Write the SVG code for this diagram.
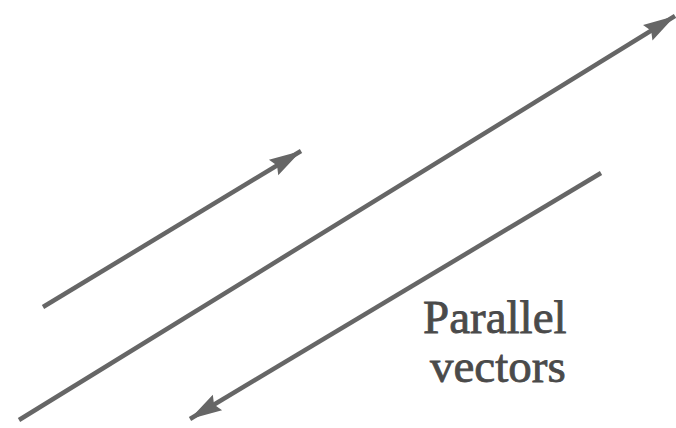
<svg xmlns="http://www.w3.org/2000/svg" width="676" height="428" viewBox="0 0 676 428">
<defs>
<marker id="ah" markerUnits="userSpaceOnUse" markerWidth="34" markerHeight="22" refX="32" refY="11" orient="auto" viewBox="0 0 34 22">
<path d="M0,2 L32,11 L0,20 L4,11 Z" fill="#666"/>
</marker>
<style>
.v{stroke:#666;stroke-width:4.5;fill:none;marker-end:url(#ah)}
.t{font-family:"Liberation Serif","Times New Roman",serif;font-size:47px;fill:#4a4a4a;stroke:#4a4a4a;stroke-width:0.8}
</style>
</defs>
<rect width="676" height="428" fill="#fff"/>
<g id="connectors">
<line class="v" x1="43" y1="307" x2="301" y2="151"/>
<line class="v" x1="19" y1="420" x2="675" y2="16"/>
<line class="v" x1="601" y1="173" x2="190" y2="419"/>
</g>
<g id="label">
<text class="t" x="423" y="333">Parallel</text>
<text class="t" x="430" y="382">vectors</text>
</g>
</svg>
